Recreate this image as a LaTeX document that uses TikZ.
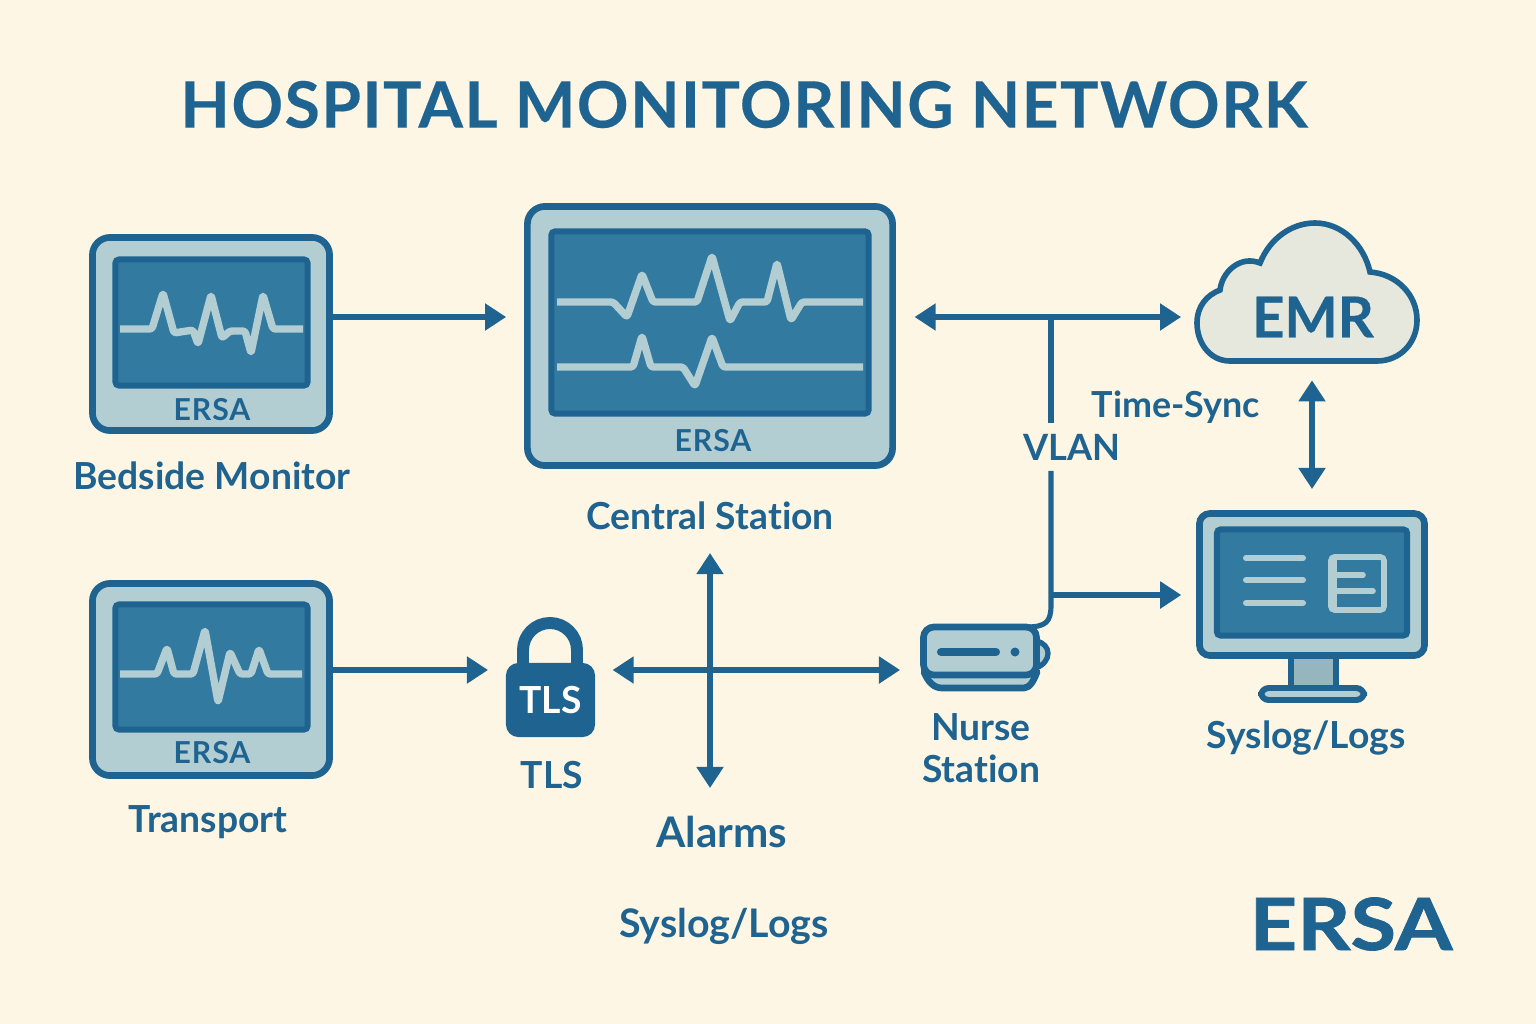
\documentclass[tikz,border=0pt]{standalone}
\usepackage{fontspec}
\setmainfont{Lato}[Ligatures=CommonOff]
\usetikzlibrary{arrows.meta}

\definecolor{paper}{HTML}{FEF6E4}
\definecolor{ink}{HTML}{1F6491}
\definecolor{panel}{HTML}{B3CED3}
\definecolor{screen}{HTML}{337AA0}
\definecolor{cloudfill}{HTML}{E6E8DE}
\definecolor{standfill}{HTML}{95B5BF}

\tikzset{
    bezel/.style={draw=ink, fill=panel, line width=1.9pt, rounded corners=5pt, inner sep=0pt},
    display/.style={draw=ink, fill=screen, line width=1.7pt, rounded corners=1pt, inner sep=0pt},
    trace/.style={draw=panel, line width=2.1pt, rounded corners=0.7pt, line join=round},
    link/.style={draw=ink, line width=1.45pt},
    oneway/.style={link, -{Triangle[length=6pt,width=7.4pt]}},
    twoway/.style={link, {Triangle[length=6pt,width=7.4pt]}-{Triangle[length=6pt,width=7.4pt]}},
    caption/.style={text=ink, font=\fontsize{10.6}{12.8}\selectfont\bfseries, align=center, inner sep=0pt},
    badge/.style={text=ink, font=\fontsize{8.6}{10}\selectfont\bfseries\addfontfeatures{LetterSpace=3}, inner sep=0pt}
}

\begin{document}
\begin{tikzpicture}[x=0.01cm, y=-0.01cm]
    \fill[paper] (0,0) rectangle (1536,1024);

    % Title
    \node[text=ink, font=\fontsize{18.2}{22}\selectfont\bfseries\addfontfeatures{LetterSpace=2.4,FakeBold=0.3}, inner sep=0pt] (title) at (744,104.5) {HOSPITAL MONITORING NETWORK};

    % Bedside monitor
    \node[bezel, minimum width=2.37cm, minimum height=1.93cm] (bedside) at (211,334) {};
    \node[display, minimum width=1.92cm, minimum height=1.26cm] (bedsideScreen) at (211.5,322.5) {};
    \draw[trace] (120,329) -- (152,329) -- (163,293) -- (174,333) -- (193,330) -- (198,344) -- (211,295) -- (222,338) -- (230,331) -- (245,331) -- (251,353) -- (263,295) -- (273,329) -- (303,329);
    \node[badge] (bedsideBrand) at (212,410) {ERSA};
    \node[caption] (bedsideLabel) at (212,476) {Bedside Monitor};

    % Central station
    \node[bezel, minimum width=3.65cm, minimum height=2.59cm] (central) at (710,336) {};
    \node[display, minimum width=3.17cm, minimum height=1.82cm] (centralScreen) at (710,322.5) {};
    \draw[trace] (557,302) -- (613,302) -- (627,317) -- (642,274) -- (653,302) -- (697,302) -- (712,256) -- (730,321) -- (740,302) -- (767,302) -- (777,263) -- (791,320) -- (802,302) -- (863,302);
    \draw[trace] (557,367) -- (633,367) -- (642,336) -- (651,367) -- (683,367) -- (695,386) -- (712,337) -- (723,367) -- (863,367);
    \node[badge] (centralBrand) at (713,441) {ERSA};
    \node[caption] (centralLabel) at (710,516) {Central Station};

    % Transport
    \node[bezel, minimum width=2.37cm, minimum height=1.92cm] (transport) at (211,679.5) {};
    \node[display, minimum width=1.92cm, minimum height=1.25cm] (transportScreen) at (211.5,667) {};
    \draw[trace] (120,674) -- (157,674) -- (167,648) -- (174,674) -- (193,674) -- (205,630) -- (218,702) -- (230,652) -- (240,674) -- (251,674) -- (259,649) -- (268,674) -- (302,674);
    \node[badge] (transportBrand) at (212,753) {ERSA};
    \node[caption] (transportLabel) at (208,822) {Transport};

    % Lock
    \draw[ink, line width=3.4pt] (523,670) -- (523,650) arc[start angle=180, end angle=0, x radius=27, y radius=-27] -- (577,670);
    \node[fill=ink, rounded corners=3.5pt, minimum width=0.89cm, minimum height=0.74cm, inner sep=0pt, text=white, font=\fontsize{10.6}{12}\selectfont\bfseries] (tls) at (550.5,700) {TLS};
    \node[caption] (tlsLabel) at (552,775) {TLS};

    % Nurse station
    \draw[ink, fill=panel, line width=1.5pt] (1036,641) .. controls (1052,644) and (1052,662) .. (1036,668) -- cycle;
    \draw[ink, fill=panel, line width=1.9pt, line join=round] (924,672) .. controls (928,682) and (934,688) .. (942,688) -- (1024,688) .. controls (1030,688) and (1034,680) .. (1037,672) -- cycle;
    \node[bezel, line width=1.9pt, rounded corners=3pt, minimum width=1.13cm, minimum height=0.48cm] (nurse) at (980,651) {};
    \draw[ink, line width=2.3pt, line cap=round] (941,652) -- (996,652);
    \fill[ink] (1015,652) circle (4.5);
    \node[caption] (nurseLabel) at (981,748) {Nurse\\[-0.8pt]Station};

    % Syslog monitor
    \draw[ink, fill=standfill, line width=1.9pt] (1291,655) rectangle (1336,690);
    \draw[ink, fill=panel, line width=1.7pt, rounded corners=2.2pt] (1261,688) rectangle (1364,700);
    \node[bezel, rounded corners=3pt, minimum width=2.25cm, minimum height=1.42cm] (syslog) at (1312,584.5) {};
    \node[display, minimum width=1.90cm, minimum height=1.06cm] (syslogScreen) at (1312,582.5) {};
    \foreach \rowY in {558,580,603} {
        \draw[panel, line width=1.7pt, line cap=round] (1246,\rowY) -- (1303,\rowY);
    }
    \draw[panel, line width=1.6pt, rounded corners=1pt] (1331,557) rectangle (1384,610);
    \draw[panel, line width=1.6pt] (1334,558) -- (1334,609);
    \draw[panel, line width=1.6pt, line cap=round] (1334,575) -- (1363,575);
    \draw[panel, line width=1.6pt, line cap=round] (1334,591) -- (1373,591);
    \node[caption] (syslogLabel) at (1306,738) {Syslog/Logs};

    % Cloud
    \draw[ink, fill=cloudfill, line width=1.6pt] (1230,361) .. controls (1210,361) and (1197,343) .. (1197,323)
        .. controls (1197,306) and (1207,295) .. (1220,290)
        .. controls (1222,272) and (1240,255) .. (1260,263)
        .. controls (1270,238) and (1292,223) .. (1315,223)
        .. controls (1342,223) and (1364,245) .. (1370,272)
        .. controls (1397,274) and (1417,295) .. (1417,320)
        .. controls (1417,343) and (1400,361) .. (1377,361) -- cycle;
    \node[minimum width=2.2cm, minimum height=1.4cm, inner sep=0pt] (cloudbox) at (1307,292) {};
    \node[text=ink, font=\fontsize{16}{18}\selectfont\bfseries\addfontfeatures{FakeBold=0.5}, inner sep=0pt] (emr) at (1313,317) {EMR};

    % Free labels
    \node[caption, font=\fontsize{10.2}{12.8}\selectfont\bfseries] (timesync) at (1176,407) {Time-Sync};
    \node[caption, font=\fontsize{10.3}{12.8}\selectfont\bfseries, inner sep=0.1cm] (vlan) at (1072,447) {VLAN};
    \node[caption, font=\fontsize{12}{14}\selectfont\bfseries] (alarms) at (722,832) {Alarms};
    \node[caption, font=\fontsize{11.2}{13}\selectfont\bfseries] (bottomLogs) at (724,926) {Syslog/Logs};
    \node[text=ink, font=\fontsize{20.5}{25}\selectfont\bfseries\addfontfeatures{FakeBold=1}, inner sep=0pt] (brand) at (1351,924) {\scalebox{1.15}[1]{ERSA}};

    % Rows and junctions
    \coordinate (rowA) at (0,317);
    \coordinate (rowB) at (0,670);
    \coordinate (rowC) at (0,595);
    \coordinate (vlanTop) at (1051,317);
    \coordinate (crossTop) at (710,553);
    \coordinate (crossBot) at (710,788);
    \coordinate (nurseTop) at (1026,627);

    % Connectors
    \draw[oneway, shorten >=5.1pt] (bedside.east |- rowA) -- (central.west |- rowA);
    \draw[twoway, shorten <=5.3pt, shorten >=4.3pt] (central.east |- rowA) -- (cloudbox.west |- rowA);
    \draw[twoway, shorten <=5pt, shorten >=6pt] (syslog.north |- cloudbox.south) -- (syslog.north);
    \draw[link] (vlanTop) -- (vlanTop |- vlan.north);
    \draw[link] (vlanTop |- vlan.south) -- (1051,605) .. controls (1051,622) and (1046,627) .. (nurseTop);
    \draw[oneway, shorten >=4.2pt] (vlanTop |- rowC) -- (syslog.west |- rowC);
    \draw[oneway, shorten >=4.9pt] (transport.east |- rowB) -- (tls.west |- rowB);
    \draw[twoway, shorten <=4.8pt, shorten >=5.7pt] (tls.east |- rowB) -- (nurse.west |- rowB);
    \draw[twoway] (crossTop) -- (crossBot);
\end{tikzpicture}
\end{document}
